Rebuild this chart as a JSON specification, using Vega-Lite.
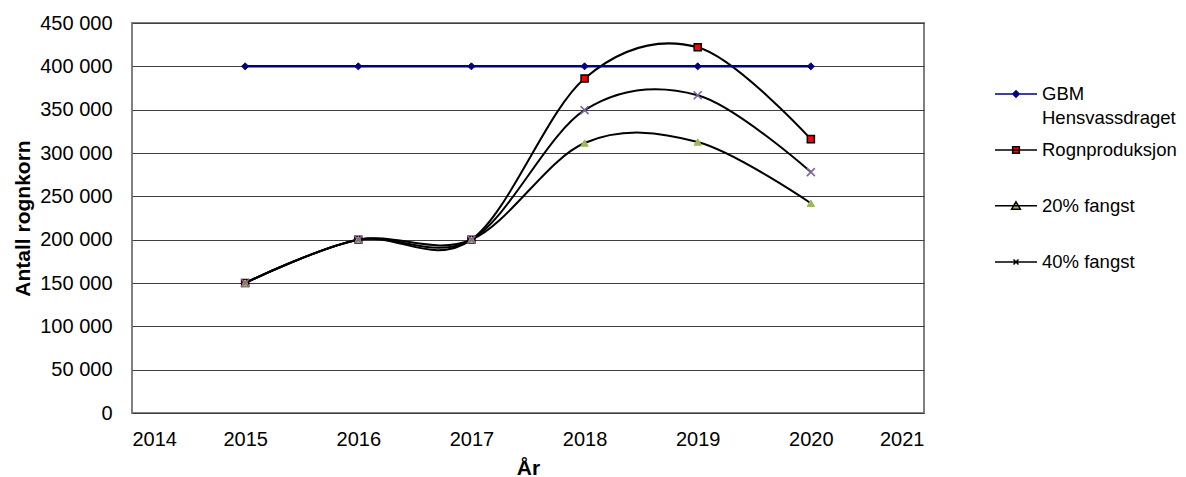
{
  "$schema": "https://vega.github.io/schema/vega-lite/v6.json",
  "autosize": "none",
  "width": 792,
  "height": 390,
  "padding": {"left": 132, "top": 23, "right": 262, "bottom": 64},
  "background": "white",
  "config": {
    "font": "Liberation Sans",
    "view": {"stroke": "#808080", "strokeWidth": 2},
    "style": {"guide-label": {"lineHeight": 24}},
    "axis": {
      "labelFont": "Liberation Sans",
      "labelColor": "#000000",
      "titleFont": "Liberation Sans",
      "titleColor": "#000000",
      "titleFontWeight": "bold",
      "ticks": false,
      "tickSize": 0,
      "domain": false,
      "gridColor": "#404040",
      "gridWidth": 1,
      "gridOpacity": 1
    }
  },
  "data": {
    "values": [
      {"year": 2015, "series": "GBM Hensvassdraget", "value": 400000},
      {"year": 2016, "series": "GBM Hensvassdraget", "value": 400000},
      {"year": 2017, "series": "GBM Hensvassdraget", "value": 400000},
      {"year": 2018, "series": "GBM Hensvassdraget", "value": 400000},
      {"year": 2019, "series": "GBM Hensvassdraget", "value": 400000},
      {"year": 2020, "series": "GBM Hensvassdraget", "value": 400000},
      {"year": 2015, "series": "Rognproduksjon", "value": 150000},
      {"year": 2016, "series": "Rognproduksjon", "value": 200000},
      {"year": 2017, "series": "Rognproduksjon", "value": 200000},
      {"year": 2018, "series": "Rognproduksjon", "value": 386000},
      {"year": 2019, "series": "Rognproduksjon", "value": 422000},
      {"year": 2020, "series": "Rognproduksjon", "value": 316000},
      {"year": 2015, "series": "20% fangst", "value": 150000},
      {"year": 2016, "series": "20% fangst", "value": 200000},
      {"year": 2017, "series": "20% fangst", "value": 200000},
      {"year": 2018, "series": "20% fangst", "value": 311500},
      {"year": 2019, "series": "20% fangst", "value": 312700},
      {"year": 2020, "series": "20% fangst", "value": 242000},
      {"year": 2015, "series": "40% fangst", "value": 150000},
      {"year": 2016, "series": "40% fangst", "value": 200000},
      {"year": 2017, "series": "40% fangst", "value": 200000},
      {"year": 2018, "series": "40% fangst", "value": 349400},
      {"year": 2019, "series": "40% fangst", "value": 366700},
      {"year": 2020, "series": "40% fangst", "value": 278000}
    ]
  },
  "encoding": {
    "x": {
      "field": "year",
      "type": "quantitative",
      "scale": {"domain": [2014, 2021], "nice": false, "zero": false},
      "axis": {
        "title": "År",
        "values": [2014, 2015, 2016, 2017, 2018, 2019, 2020, 2021],
        "format": "d",
        "grid": false,
        "labelFontSize": 20,
        "labelPadding": 16,
        "titleFontSize": 21,
        "titlePadding": 8
      }
    },
    "y": {
      "field": "value",
      "type": "quantitative",
      "scale": {"domain": [0, 450000], "nice": false},
      "axis": {
        "title": "Antall rognkorn",
        "values": [0, 50000, 100000, 150000, 200000, 250000, 300000, 350000, 400000, 450000],
        "labelExpr": "replace(format(datum.value, ','), ',', ' ')",
        "labelFontSize": 20,
        "labelPadding": 20,
        "titleFontSize": 21,
        "titlePadding": 6
      }
    }
  },
  "layer": [
    {
      "transform": [{"filter": "datum.series !== 'GBM Hensvassdraget'"}],
      "mark": {"type": "line", "interpolate": "cardinal", "tension": 0, "strokeWidth": 2},
      "encoding": {
        "detail": {"field": "series", "type": "nominal"},
        "color": {"value": "#000000"}
      }
    },
    {
      "transform": [{"filter": "datum.series === 'GBM Hensvassdraget'"}],
      "mark": {"type": "line", "interpolate": "cardinal", "tension": 0, "strokeWidth": 2.5},
      "encoding": {
        "color": {"value": "#000080"}
      }
    },
    {
      "transform": [{"filter": "datum.year > 3000"}],
      "mark": {"type": "point", "filled": true, "opacity": 1},
      "encoding": {
        "fill": {
          "field": "series",
          "type": "nominal",
          "scale": {
            "domain": ["GBM Hensvassdraget", "Rognproduksjon", "20% fangst", "40% fangst"],
            "range": ["#000080", "#ff0000", "#9bbb59", "#8064a2"]
          },
          "legend": {
            "title": null,
            "orient": "none",
            "legendX": 862,
            "legendY": 49,
            "padding": 0,
            "gridAlign": "all",
            "symbolSize": 1764,
            "symbolOpacity": 1,
            "symbolStrokeWidth": 1.5,
            "labelFont": "Liberation Sans",
            "labelFontSize": 18.5,
            "labelColor": "#000000",
            "labelOffset": 4,
            "labelLimit": 0,
            "rowPadding": 0,
            "labelExpr": "datum.label === 'GBM Hensvassdraget' ? ['GBM', 'Hensvassdraget'] : datum.label"
          }
        },
        "stroke": {
          "field": "series",
          "type": "nominal",
          "scale": {
            "domain": ["GBM Hensvassdraget", "Rognproduksjon", "20% fangst", "40% fangst"],
            "range": ["#000080", "#000000", "#000000", "#000000"]
          }
        },
        "shape": {
          "field": "series",
          "type": "nominal",
          "scale": {
            "domain": ["GBM Hensvassdraget", "Rognproduksjon", "20% fangst", "40% fangst"],
            "range": [
              "M-1,0H1M0,-0.15L0.15,0L0,0.15L-0.15,0Z",
              "M-1,0H1M-0.16,-0.16H0.16V0.16H-0.16Z",
              "M-1,-0.01H1M0,-0.2L0.21,0.15H-0.21Z",
              "M-1,0H1M-0.12,-0.12L0.12,0.12M-0.12,0.12L0.12,-0.12"
            ]
          }
        }
      }
    },
    {
      "transform": [{"filter": "datum.series === 'GBM Hensvassdraget'"}],
      "mark": {"type": "point", "shape": "diamond", "filled": true, "opacity": 1, "size": 50, "fill": "#000080", "stroke": "#000080", "strokeWidth": 1}
    },
    {
      "transform": [{"filter": "datum.series === 'Rognproduksjon'"}],
      "mark": {"type": "point", "shape": "square", "filled": true, "opacity": 1, "size": 50, "fill": "#ff0000", "stroke": "#000000", "strokeWidth": 1.5}
    },
    {
      "transform": [{"filter": "datum.series === '20% fangst'"}],
      "mark": {"type": "point", "shape": "triangle-up", "filled": true, "opacity": 1, "size": 55, "fill": "#9bbb59", "stroke": "#9bbb59", "strokeWidth": 1}
    },
    {
      "transform": [{"filter": "datum.series === '40% fangst'"}],
      "mark": {"type": "point", "shape": "M-1,-1L1,1M-1,1L1,-1", "filled": false, "opacity": 1, "size": 64, "stroke": "#8064a2", "strokeWidth": 1.6}
    }
  ]
}
